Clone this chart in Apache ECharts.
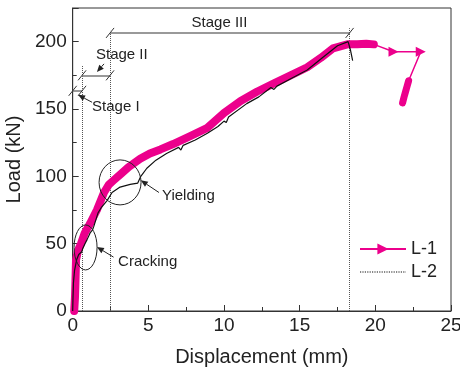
<!DOCTYPE html>
<html>
<head>
<meta charset="utf-8">
<script src="https://cdn.jsdelivr.net/npm/echarts@6/dist/echarts.min.js"></script>
<style>
html,body{margin:0;padding:0;background:#fff}
#chart{width:460px;height:371px}
</style>
</head>
<body>
<div id="chart"></div>
<script>
// L-1 : thick band part (dense markers in the original)
var l1Band = [[0.1,0],[0.15,10],[0.18,21],[0.22,38],[0.35,45],[0.55,50],[0.8,58],[1.15,65],[1.6,75],
    [2.07,88],[2.4,94],[2.7,97],[3.2,102],[3.7,107],[4.46,113],[5.1,117],[5.8,120],[6.64,124],[7.8,130],
    [8.9,136],[10.0,147],[11.1,156],[12.2,163],[13.3,169],[14.4,175],[15.5,181],[16.4,188],[17.2,195],
    [18.15,198],[18.8,198],[19.4,198.5],[19.9,198]];
// L-1 : thin tail after peak, then drop blob
var l1Tail = [[19.9,198],[21.2,192.5],[23.0,192.5],[22.2,171]];
var l1Arrows = [1, 2];
var l1Drop = [[22.2,171],[22.1,167],[22.0,163],[21.9,159],[21.8,154.5]];
// L-2
var l2 = [[0,0],[0.02,10],[0.05,21],[0.12,30],[0.26,38],[0.4,42],[0.48,43],[0.6,44],[0.65,46],[0.81,50],
    [0.95,53],[1.15,58],[1.3,60],[1.4,63],[1.68,73],[1.9,77],[2.27,82],[2.6,88],[3.13,92],[3.8,94],[4.3,95],
    [4.5,100],[4.9,106],[5.5,112],[6.2,117],[7.0,121.5],[7.15,119.5],[7.3,123],[8.1,127],[8.9,132],
    [9.6,137],[10.0,141],[10.15,140],[10.3,144],[11.5,154],[12.3,159],[13.1,166],[13.3,164.5],[13.5,167],
    [14.5,173],[15.5,179],[16.5,188],[17.5,197],[18.2,200],[18.35,194],[18.5,186]];
// vertical stage boundaries [x, top]
var stageBounds = [[0.62,182],[2.47,208],[18.3,210]];
// stage brackets [x0, x1, y]
var stageLines = [[0,0.62,163.5],[0.62,2.47,175],[2.47,18.3,206.5]];
var xTicks = [0, 5, 10, 15, 20, 25];
var yTicks = [0, 50, 100, 150, 200];

var pink = '#ec008c';
var font = 'Liberation Sans, Arial, sans-serif';
var chart = echarts.init(document.getElementById('chart'));

var tailData = l1Tail.map(function (p, i) {
    return l1Arrows.indexOf(i) >= 0 ? {value: p} : {value: p, symbol: 'none'};
});

var markData = [];
stageBounds.forEach(function (b) {
    markData.push([{coord: [b[0], 0]}, {coord: [b[0], b[1]]}]);
});
stageLines.forEach(function (s) {
    markData.push([{coord: [s[0], s[2]], lineStyle: {type: 'solid', color: '#777', width: 1.5}},
        {coord: [s[1], s[2]]}]);
});

var option = {
    animation: false,
    textStyle: {fontFamily: font},
    grid: {left: 72.7, right: 9, top: 8, bottom: 60, show: true, borderColor: '#333', borderWidth: 1,
        containLabel: false, outerBoundsMode: 'none'},
    legend: {
        left: 354, top: 235, orient: 'vertical', itemWidth: 46, itemHeight: 14, itemGap: 5,
        textStyle: {fontSize: 18, color: '#222', fontFamily: font},
        data: [{name: 'L-1'}, {name: 'L-2', itemStyle: {opacity: 0}, lineStyle: {type: 'dotted', width: 1.2}}]
    },
    xAxis: {
        type: 'value', min: 0, max: 25, interval: 5,
        name: 'Displacement (mm)', nameLocation: 'middle', nameGap: 36,
        nameTextStyle: {fontSize: 20, color: '#222'},
        axisLine: {lineStyle: {color: '#333'}},
        axisTick: {inside: true, length: 6, lineStyle: {color: '#333'}},
        minorTick: {show: true, splitNumber: 2, length: 4, lineStyle: {color: '#333'}},
        axisLabel: {fontSize: 19, color: '#222', margin: 5,
            formatter: function (v) { return xTicks.indexOf(v) >= 0 ? v : ''; }},
        splitLine: {show: false}
    },
    yAxis: {
        type: 'value', min: 0, max: 225, interval: 50,
        name: 'Load (kN)', nameLocation: 'middle', nameGap: 37,
        nameTextStyle: {fontSize: 20, color: '#222'},
        axisLine: {show: true, lineStyle: {color: '#333'}},
        axisTick: {show: true, inside: true, length: 6, lineStyle: {color: '#333'}},
        minorTick: {show: true, splitNumber: 2, length: 4, lineStyle: {color: '#333'}},
        axisLabel: {fontSize: 19, color: '#222', margin: 6, showMaxLabel: false,
            formatter: function (v) { return yTicks.indexOf(v) >= 0 ? v : ''; }},
        splitLine: {show: false}
    },
    series: [
        {
            name: 'L-1', type: 'line', data: tailData,
            symbol: 'triangle', symbolSize: 10, symbolRotate: -90, showAllSymbol: true,
            lineStyle: {color: pink, width: 1.5}, itemStyle: {color: pink}, z: 3
        },
        {
            name: 'L-1', type: 'line', data: l1Band, showSymbol: false, symbol: 'none',
            lineStyle: {color: pink, width: 8, cap: 'round', join: 'round'}, z: 3
        },
        {
            name: 'L-1', type: 'line', data: l1Drop, showSymbol: false, symbol: 'none',
            lineStyle: {color: pink, width: 7, cap: 'round', join: 'round'}, z: 3
        },
        {
            name: 'L-2', type: 'line', data: l2, showSymbol: false, symbol: 'none',
            lineStyle: {color: '#111', width: 1.2}, itemStyle: {color: '#111'}, z: 4,
            markLine: {
                silent: true, symbol: 'none', label: {show: false},
                lineStyle: {type: 'dotted', color: '#555', width: 1},
                data: markData, z: 2
            }
        }
    ]
};
chart.setOption(option);

function px(p) { return chart.convertToPixel({gridIndex: 0}, p); }

function arrow(from, to) {
    var a = px(from), b = px(to);
    var ang = Math.atan2(b[1] - a[1], b[0] - a[0]);
    var L = 7, W = 3;
    var bx = b[0] - L * Math.cos(ang), by = b[1] - L * Math.sin(ang);
    return [
        {type: 'line', shape: {x1: a[0], y1: a[1], x2: bx, y2: by}, style: {stroke: '#222', lineWidth: 1}, z: 10},
        {type: 'polygon', shape: {points: [[b[0], b[1]],
            [bx + W * Math.sin(ang), by - W * Math.cos(ang)],
            [bx - W * Math.sin(ang), by + W * Math.cos(ang)]]}, style: {fill: '#222'}, z: 10}
    ];
}

function slash(p) {
    var c = px(p);
    return {type: 'line', shape: {x1: c[0] - 4, y1: c[1] + 5, x2: c[0] + 4, y2: c[1] - 5},
        style: {stroke: '#333', lineWidth: 1}, z: 10};
}

function label(p, text, align) {
    var c = px(p);
    return {type: 'text', x: c[0], y: c[1], z: 10,
        style: {text: text, fill: '#222', font: '15px ' + font, align: align || 'left', verticalAlign: 'middle'}};
}

function ellipse(p, rx, ry) {
    var c = px(p);
    return {type: 'ellipse', shape: {cx: c[0], cy: c[1], rx: rx, ry: ry},
        style: {fill: 'none', stroke: '#222', lineWidth: 1}, z: 10};
}

var g = [];
stageLines.forEach(function (s) {
    g.push(slash([s[0], s[2]]));
    g.push(slash([s[1], s[2]]));
});
g.push(label([9.7, 214], 'Stage III', 'center'));
g.push(label([1.54, 190], 'Stage II'));
g.push(label([1.28, 151.5], 'Stage I'));
g.push(label([3.0, 36.4], 'Cracking'));
g.push(label([5.9, 85.4], 'Yielding'));
g.push(ellipse([0.85, 47.2], 11.5, 22.5));
g.push(ellipse([3.13, 95.5], 21, 22.5));
g = g.concat(arrow([1.28, 155], [0.35, 160.5]));
g = g.concat(arrow([2.07, 183.5], [1.6, 177.5]));
g = g.concat(arrow([2.7, 40], [1.6, 47.5]));
g = g.concat(arrow([5.7, 88], [4.5, 97]));
chart.setOption({graphic: g});
</script>
</body>
</html>
